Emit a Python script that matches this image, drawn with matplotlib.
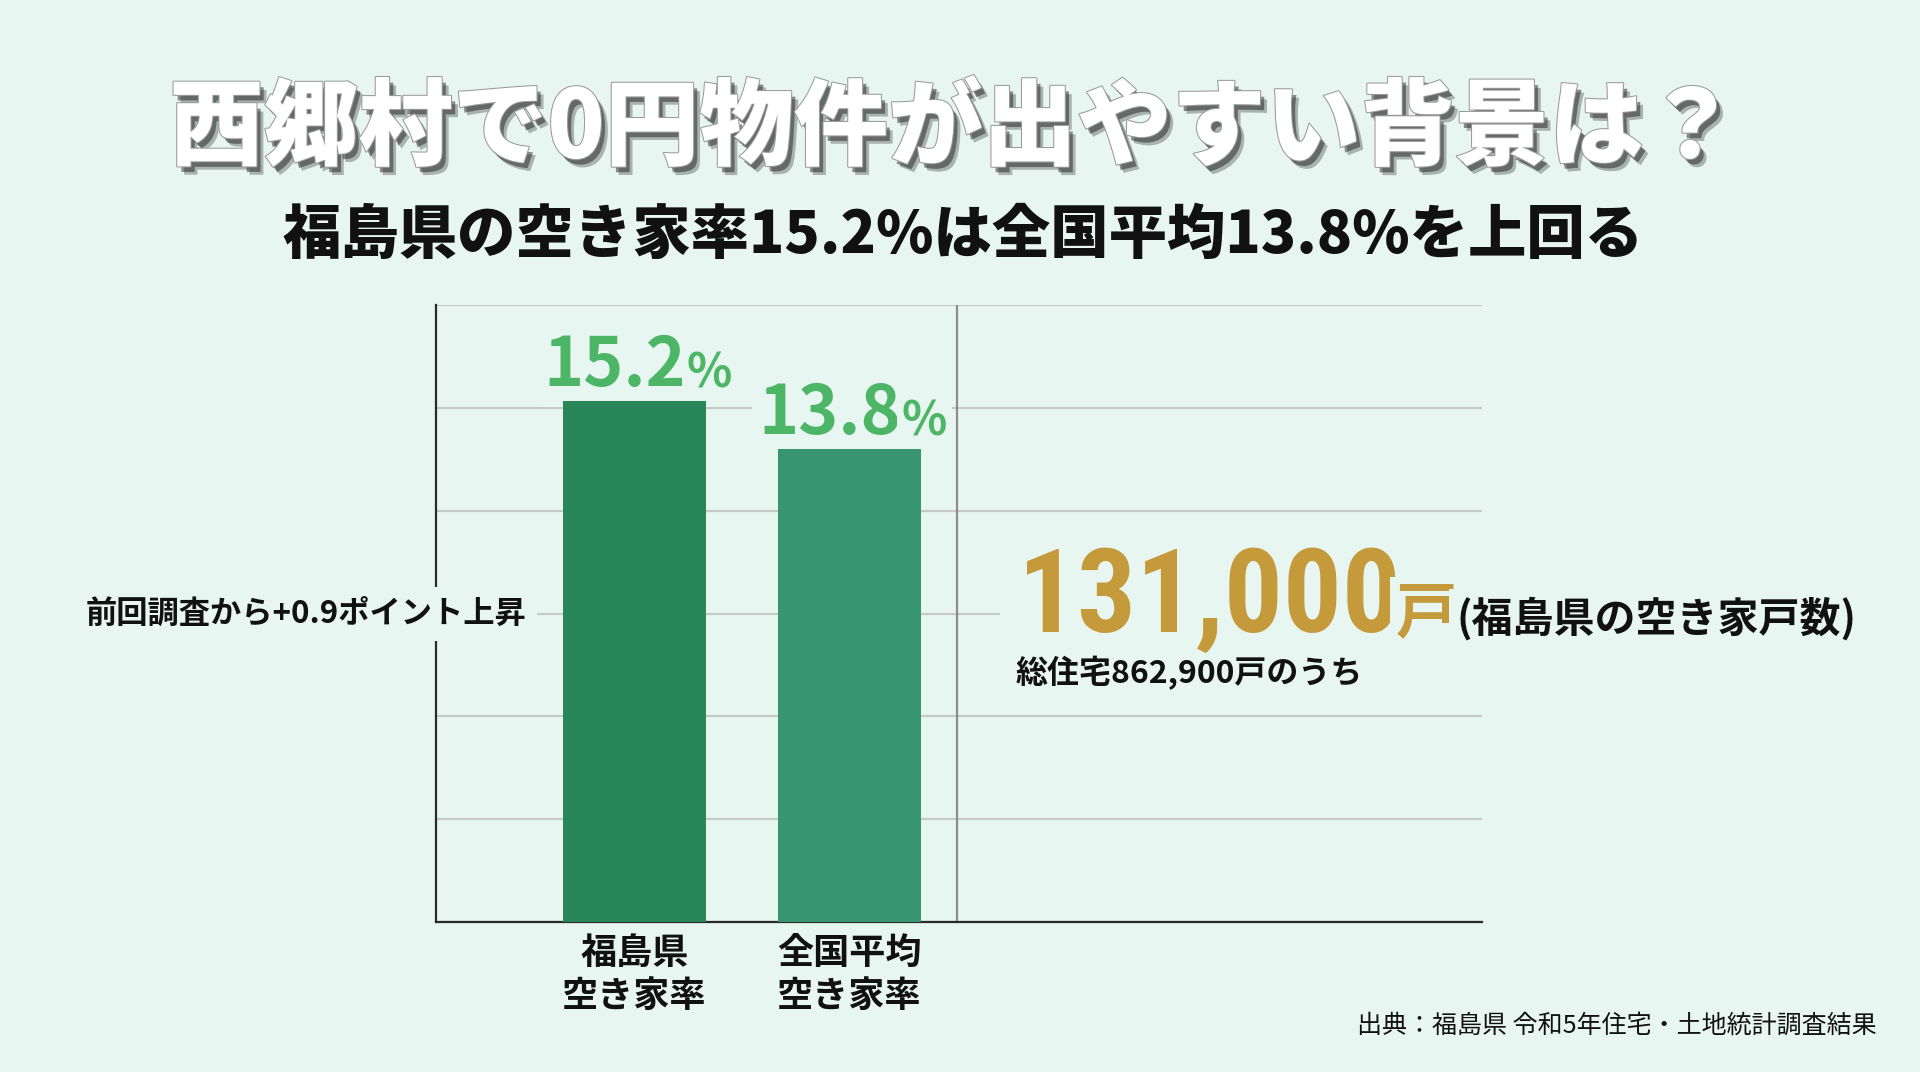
import matplotlib
matplotlib.use("Agg")
import matplotlib.pyplot as plt
import matplotlib.patheffects as pe
from matplotlib import font_manager

# data
categories = ['福島県\n空き家率', '全国平均\n空き家率']
rates = [15.2, 13.8]
rise_note = '前回調査から+0.9ポイント上昇'
vacant_count = '131,000'
vacant_note = '(福島県の空き家戸数)'
total_note = '総住宅862,900戸のうち'
title = '西郷村で0円物件が出やすい背景は？'
subtitle = '福島県の空き家率15.2%は全国平均13.8%を上回る'
source = '出典：福島県 令和5年住宅・土地統計調査結果'

# colours
bg = '#E8F6F1'
bar_colors = ['#288658', '#389571']
label_green = '#4DB566'
gold = '#C49A3B'

jp = ['Noto Sans CJK JP', 'DejaVu Sans']
plt.rcParams['font.family'] = jp

names = {f.name for f in font_manager.fontManager.ttflist}
narrow = next((n for n in ['Roboto Condensed', 'Liberation Sans Narrow'] if n in names), None)

fig = plt.figure(figsize=(19.2, 10.72), dpi=100, facecolor=bg)
ax = fig.add_axes([0.2271, 0.1399, 0.5448, 0.5756], facecolor=bg)

x = list(range(len(rates)))
ax.bar(x, rates, width=0.665, color=bar_colors, zorder=3)

ax.set_xlim(-0.923, 3.942)
ax.set_ylim(0, 18)
ax.set_yticks([0, 3, 6, 9, 12, 15, 18])
ax.yaxis.grid(True, color='#C5CAC8', linewidth=1.6, zorder=0)
ax.set_axisbelow(True)
ax.tick_params(axis='y', left=False, labelleft=False)
ax.set_xticks(x)
ax.set_xticklabels(categories, fontsize=26, fontweight='bold', color='#111111',
                   linespacing=1.2)
ax.tick_params(axis='x', bottom=False, pad=6)
for s in ['top', 'right']:
    ax.spines[s].set_visible(False)
for s in ['left', 'bottom']:
    ax.spines[s].set_color('#2a2a2a')
    ax.spines[s].set_linewidth(1.6)
ax.axvline(1.5, color='#8C8C8C', linewidth=1.6, zorder=1)

# value labels (background box hides the gridlines, bars drawn on top)
for i, v in enumerate(rates):
    t = ax.annotate(f'{v}', xy=(i, v), xytext=(-14, 11), textcoords='offset points',
                    ha='center', va='baseline', fontsize=49, fontweight='bold',
                    color=label_green, zorder=2,
                    bbox=dict(boxstyle='square,pad=0.1', fc=bg, ec='none'))
    ax.annotate('%', xy=(1, 0), xycoords=t, xytext=(0, 2), textcoords='offset points',
                ha='left', va='bottom', fontsize=34, fontweight='bold',
                color=label_green, zorder=2,
                bbox=dict(boxstyle='square,pad=0.1', fc=bg, ec='none'))

# titles
fig.text(0.497, 0.8787, title, ha='center', va='center', fontsize=68,
         fontweight='black', color='white',
         path_effects=[pe.SimplePatchShadow(offset=(5, -6), shadow_rgbFace='#333333', alpha=0.35),
                       pe.SimplePatchShadow(offset=(3, -4), shadow_rgbFace='#222222', alpha=0.5),
                       pe.Stroke(linewidth=1.5, foreground='#9a9a9a'),
                       pe.Normal()])
fig.text(0.5015, 0.7799, subtitle, ha='center', va='center', fontsize=42,
         fontweight='black', color='#111111')

# side notes
fig.text(306 / 1920, 1 - 614 / 1072, rise_note, ha='center', va='center', fontsize=22.5,
         fontweight='bold', color='#111111',
         bbox=dict(boxstyle='square,pad=0.35', fc=bg, ec='none'))

if narrow:
    num = fig.text(1018 / 1920, 1 - 632 / 1072, vacant_count, ha='left', va='baseline',
                   fontsize=84, fontweight='bold', color=gold, family=[narrow] + jp,
                   bbox=dict(boxstyle='square,pad=0.15', fc=bg, ec='none'))
else:
    num = fig.text(1018 / 1920, 1 - 632 / 1072, vacant_count, ha='left', va='baseline',
                   fontsize=70, fontweight='bold', color=gold,
                   bbox=dict(boxstyle='square,pad=0.15', fc=bg, ec='none'))
fig.text(1396 / 1920, 1 - 632 / 1072, '戸', ha='left', va='baseline', fontsize=44,
         fontweight='bold', color=gold,
         bbox=dict(boxstyle='square,pad=0.1', fc=bg, ec='none'))
fig.text(1457 / 1920, 1 - 632 / 1072, vacant_note, ha='left', va='baseline',
         fontsize=29.5, fontweight='bold', color='#111111',
         bbox=dict(boxstyle='square,pad=0.2', fc=bg, ec='none'))

fig.text(1016 / 1920, 1 - 673 / 1072, total_note, ha='left', va='center', fontsize=23,
         fontweight='bold', color='#111111')

fig.text(1877 / 1920, 1 - 1026 / 1072, source, ha='right', va='center', fontsize=18,
         color='#111111')

fig.savefig('out.png', dpi=100, facecolor=bg)
